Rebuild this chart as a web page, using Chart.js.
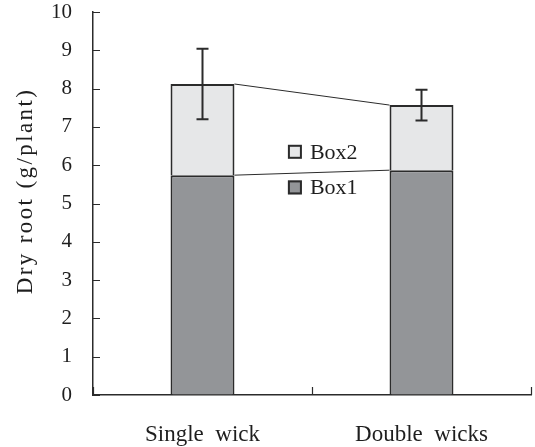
<!DOCTYPE html>
<html>
<head>
<meta charset="utf-8">
<script src="https://cdn.jsdelivr.net/npm/chart.js@4.4.1/dist/chart.umd.min.js"></script>
<style>
  html, body { margin: 0; padding: 0; background: #fff; }
  canvas { display: block; }
</style>
</head>
<body>
<canvas id="c" width="535" height="447"></canvas>
<script>
// Dry root weight per plant, stacked by box
const categories = ['Single  wick', 'Double  wicks'];
const box1 = [5.74, 5.87];
const box2 = [2.38, 1.70];
const totalError = [0.92, 0.40];   // +/- on the stacked total
const seriesNames = ['Box1', 'Box2'];
const yMin = 0, yMax = 10, yStep = 1;
const yTitle = 'Dry root (g/plant)';

const SERIF = '"Liberation Serif", "Times New Roman", serif';
const INK = '#2b2b2b';
const TEXT = '#1e1e1e';
const fills = ['#939598', '#e6e7e8'];

const decor = {
  id: 'decor',
  afterDatasetsDraw(chart) {
    const ctx = chart.ctx;
    const area = chart.chartArea;
    const xs = chart.scales.x, ys = chart.scales.y;
    ctx.save();

    // series lines joining the segment tops of neighbouring bars
    ctx.strokeStyle = INK;
    ctx.lineWidth = 1;
    chart.data.datasets.forEach((ds, di) => {
      const bars = chart.getDatasetMeta(di).data;
      for (let i = 0; i < bars.length - 1; i++) {
        const a = bars[i], b = bars[i + 1];
        ctx.beginPath();
        ctx.moveTo(a.x + a.width / 2, a.y);
        ctx.lineTo(b.x - b.width / 2, b.y);
        ctx.stroke();
      }
    });

    // error bars on the stacked totals
    const topBars = chart.getDatasetMeta(chart.data.datasets.length - 1).data;
    ctx.lineWidth = 2;
    topBars.forEach((bar, i) => {
      const total = box1[i] + box2[i];
      const yHi = ys.getPixelForValue(total + totalError[i]);
      const yLo = ys.getPixelForValue(total - totalError[i]);
      const cap = 6;
      ctx.beginPath();
      ctx.moveTo(bar.x, yHi); ctx.lineTo(bar.x, yLo);
      ctx.moveTo(bar.x - cap, yHi); ctx.lineTo(bar.x + cap, yHi);
      ctx.moveTo(bar.x - cap, yLo); ctx.lineTo(bar.x + cap, yLo);
      ctx.stroke();
    });

    // inward tick marks
    ctx.lineWidth = 1.2;
    ctx.beginPath();
    ys.ticks.forEach(t => {
      const y = Math.round(ys.getPixelForValue(t.value)) + 0.5;
      ctx.moveTo(area.left, y); ctx.lineTo(area.left + 7, y);
    });
    const edges = [area.left];
    for (let i = 0; i < categories.length - 1; i++) {
      edges.push((xs.getPixelForValue(i) + xs.getPixelForValue(i + 1)) / 2);
    }
    edges.push(area.right);
    edges.forEach(x => {
      const px = Math.round(x) + 0.5;
      ctx.moveTo(px, area.bottom); ctx.lineTo(px, area.bottom - 8);
    });
    ctx.stroke();

    // legend inside the plot, top series first
    const lx = area.left + 0.445 * (area.right - area.left);
    const rowY = [ys.getPixelForValue(6.35), ys.getPixelForValue(5.42)];
    const order = [1, 0];
    ctx.font = '22px ' + SERIF;
    ctx.textBaseline = 'middle';
    ctx.textAlign = 'left';
    order.forEach((di, r) => {
      const cy = rowY[r];
      ctx.fillStyle = fills[di];
      ctx.fillRect(lx, cy - 7, 14, 14);
      ctx.strokeStyle = INK;
      ctx.lineWidth = 2;
      ctx.strokeRect(lx + 1, cy - 6, 12, 12);
      ctx.fillStyle = TEXT;
      ctx.fillText(seriesNames[di], lx + 22, cy + 1);
    });

    // y axis title, loosely tracked
    ctx.translate(32, 191);
    ctx.rotate(-Math.PI / 2);
    ctx.textAlign = 'center';
    ctx.textBaseline = 'alphabetic';
    ctx.font = '23px ' + SERIF;
    if ('letterSpacing' in ctx) ctx.letterSpacing = '2.4px';
    ctx.fillText(yTitle, 0, 0);
    ctx.restore();
  }
};

new Chart(document.getElementById('c'), {
  type: 'bar',
  data: {
    labels: categories,
    datasets: [
      { label: seriesNames[0], data: box1, backgroundColor: fills[0], borderColor: INK, borderWidth: 2, borderSkipped: 'bottom' },
      { label: seriesNames[1], data: box2, backgroundColor: fills[1], borderColor: INK, borderWidth: 2, borderSkipped: 'bottom' }
    ]
  },
  options: {
    responsive: false,
    animation: false,
    devicePixelRatio: 1,
    layout: { padding: { left: 0, right: 4, top: 12, bottom: 0 } },
    categoryPercentage: 0.292,
    barPercentage: 1,
    plugins: { legend: { display: false }, tooltip: { enabled: false } },
    scales: {
      x: {
        stacked: true,
        offset: true,
        grid: { drawOnChartArea: false, drawTicks: false },
        border: { color: INK, width: 1.5 },
        ticks: { color: TEXT, font: { family: SERIF, size: 23 }, padding: 26 },
        afterFit(s) { s.height = 52; s.paddingLeft = 0; s.paddingRight = 0; }
      },
      y: {
        stacked: true,
        min: yMin, max: yMax,
        grid: { drawOnChartArea: false, drawTicks: false },
        border: { color: INK, width: 1.5 },
        ticks: { stepSize: yStep, color: TEXT, font: { family: SERIF, size: 21 }, padding: 21 },
        afterFit(s) { s.width = 93; s.paddingTop = 0; s.paddingBottom = 0; }
      }
    }
  },
  plugins: [decor]
});
</script>
</body>
</html>
